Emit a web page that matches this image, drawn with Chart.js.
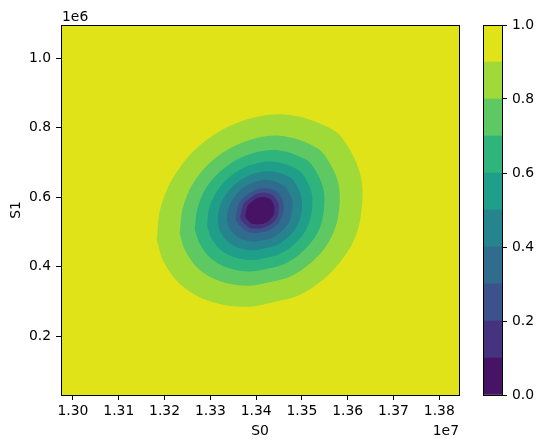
<!DOCTYPE html>
<html>
<head>
<meta charset="utf-8">
<script src="https://cdn.jsdelivr.net/npm/chart.js@4.4.1/dist/chart.umd.min.js"></script>
<style>
  html, body { margin: 0; padding: 0; background: #fff; }
  #wrap { position: relative; width: 543px; height: 448px; }
  #main { position: absolute; left: 0; top: 0; }
  #cbar { position: absolute; left: 460px; top: 0; }
</style>
</head>
<body>
<div id="wrap">
  <canvas id="main" width="543" height="448"></canvas>
  <canvas id="cbar" width="83" height="448"></canvas>
</div>
<script>
// ===========================================
// data
// ===========================================
const S0_LIM = [1.29738e7, 1.38431e7];
const S1_LIM = [0.0315e6, 1.0957e6];
const S0_TICKS = [1.30e7, 1.31e7, 1.32e7, 1.33e7, 1.34e7, 1.35e7, 1.36e7, 1.37e7, 1.38e7];
const S1_TICKS = [0.2e6, 0.4e6, 0.6e6, 0.8e6, 1.0e6];
const LEVELS = [0, 0.1, 0.2, 0.3, 0.4, 0.5, 0.6, 0.7, 0.8, 0.9, 1.0];
const CB_TICKS = [0, 0.2, 0.4, 0.6, 0.8, 1.0];
// viridis at layer midpoints (0.05 ... 0.95)
const LAYER_COLORS = ['#471365','#46337f','#3b528b','#2f6c8e','#25848e','#1f9e89','#2fb47c','#5ec962','#a0da39','#dfe318'];

// contour lines (closed rings), S0 / S1
const c10_s0 = [1.3376e7,1.3382e7,1.3402e7,1.3416e7,1.3431e7,1.3440e7,1.3438e7,1.3428e7,1.3413e7,1.3392e7,1.3378e7];
const c10_s1 = [0.549e6,0.577e6,0.598e6,0.601e6,0.595e6,0.574e6,0.549e6,0.532e6,0.523e6,0.523e6,0.540e6];
const c20_s0 = [1.3365e7,1.3373e7,1.3400e7,1.3419e7,1.3438e7,1.3450e7,1.3447e7,1.3434e7,1.3414e7,1.3387e7,1.3368e7];
const c20_s1 = [0.545e6,0.582e6,0.610e6,0.614e6,0.605e6,0.578e6,0.545e6,0.523e6,0.511e6,0.512e6,0.533e6];
const c30_s0 = [1.3355e7,1.3365e7,1.3398e7,1.3421e7,1.3446e7,1.3460e7,1.3456e7,1.3440e7,1.3416e7,1.3383e7,1.3359e7];
const c30_s1 = [0.542e6,0.587e6,0.621e6,0.626e6,0.616e6,0.582e6,0.542e6,0.515e6,0.500e6,0.500e6,0.527e6];
const c40_s0 = [1.3336e7,1.3339e7,1.3350e7,1.3368e7,1.3394e7,1.3426e7,1.3459e7,1.3471e7,1.3479e7,1.3478e7,1.3474e7,1.3465e7,1.3452e7,1.3436e7,1.3419e7,1.3398e7,1.3373e7,1.3354e7,1.3341e7];
const c40_s1 = [0.535e6,0.565e6,0.596e6,0.623e6,0.643e6,0.650e6,0.635e6,0.617e6,0.590e6,0.557e6,0.535e6,0.516e6,0.498e6,0.484e6,0.478e6,0.473e6,0.478e6,0.492e6,0.514e6];
const c50_s0 = [1.3316e7,1.3319e7,1.3333e7,1.3357e7,1.3390e7,1.3431e7,1.3474e7,1.3489e7,1.3499e7,1.3499e7,1.3492e7,1.3482e7,1.3465e7,1.3444e7,1.3422e7,1.3395e7,1.3363e7,1.3338e7,1.3322e7];
const c50_s1 = [0.527e6,0.566e6,0.606e6,0.641e6,0.666e6,0.675e6,0.657e6,0.633e6,0.598e6,0.556e6,0.527e6,0.503e6,0.480e6,0.462e6,0.454e6,0.448e6,0.454e6,0.473e6,0.501e6];
const c60_s0 = [1.3293e7,1.3297e7,1.3314e7,1.3344e7,1.3386e7,1.3436e7,1.3490e7,1.3509e7,1.3522e7,1.3521e7,1.3513e7,1.3500e7,1.3479e7,1.3453e7,1.3425e7,1.3391e7,1.3352e7,1.3321e7,1.3301e7];
const c60_s1 = [0.518e6,0.567e6,0.617e6,0.661e6,0.692e6,0.703e6,0.680e6,0.651e6,0.607e6,0.555e6,0.518e6,0.489e6,0.460e6,0.438e6,0.427e6,0.420e6,0.428e6,0.451e6,0.486e6];
const c70_s0 = [1.3266e7,1.3272e7,1.3292e7,1.3330e7,1.3381e7,1.3443e7,1.3509e7,1.3532e7,1.3548e7,1.3547e7,1.3538e7,1.3521e7,1.3495e7,1.3463e7,1.3429e7,1.3387e7,1.3339e7,1.3301e7,1.3276e7];
const c70_s1 = [0.509e6,0.568e6,0.630e6,0.684e6,0.722e6,0.736e6,0.708e6,0.672e6,0.617e6,0.554e6,0.509e6,0.472e6,0.436e6,0.409e6,0.396e6,0.387e6,0.397e6,0.425e6,0.469e6];
const c80_s0 = [1.3233e7,1.3240e7,1.3265e7,1.3311e7,1.3374e7,1.3451e7,1.3532e7,1.3561e7,1.3581e7,1.3580e7,1.3568e7,1.3548e7,1.3515e7,1.3476e7,1.3434e7,1.3383e7,1.3323e7,1.3275e7,1.3245e7];
const c80_s1 = [0.496e6,0.570e6,0.646e6,0.713e6,0.760e6,0.777e6,0.743e6,0.698e6,0.631e6,0.552e6,0.496e6,0.451e6,0.407e6,0.373e6,0.357e6,0.346e6,0.358e6,0.393e6,0.447e6];
const c90_s0 = [1.3183e7,1.3192e7,1.3225e7,1.3284e7,1.3364e7,1.3463e7,1.3568e7,1.3605e7,1.3630e7,1.3629e7,1.3614e7,1.3587e7,1.3546e7,1.3496e7,1.3441e7,1.3375e7,1.3299e7,1.3238e7,1.3198e7];
const c90_s1 = [0.478e6,0.573e6,0.670e6,0.757e6,0.817e6,0.838e6,0.794e6,0.736e6,0.650e6,0.550e6,0.478e6,0.420e6,0.363e6,0.320e6,0.300e6,0.285e6,0.301e6,0.346e6,0.415e6];

// ===========================================
Chart.defaults.font.family = "'DejaVu Sans', sans-serif";
Chart.defaults.font.size = 13.9;
Chart.defaults.color = '#000';

const ring = (xs, ys) => { const pts = xs.map((x, i) => ({x, y: ys[i]})); pts.push(pts[0]); return pts; };

const frame = {
  id: 'frame',
  afterDraw(chart) {
    const {ctx, chartArea: a} = chart;
    ctx.save();
    ctx.strokeStyle = '#000'; ctx.lineWidth = 1;
    ctx.strokeRect(Math.floor(a.left) + 0.5, Math.floor(a.top) + 0.5, Math.round(a.right - a.left), Math.round(a.bottom - a.top));
    ctx.restore();
  }
};
const offsetText = {
  id: 'offsetText',
  afterDraw(chart) {
    const {ctx, chartArea: a} = chart;
    ctx.save();
    ctx.fillStyle = '#000'; ctx.font = "13.9px 'DejaVu Sans', sans-serif"; ctx.textBaseline = 'alphabetic';
    ctx.textAlign = 'left'; ctx.fillText('1e6', a.left + 1, 21);
    ctx.textAlign = 'right'; ctx.fillText('1e7', a.right, 435);
    ctx.restore();
  }
};

// innermost first so it ends up on top
const contours = [[c10_s0,c10_s1],[c20_s0,c20_s1],[c30_s0,c30_s1],[c40_s0,c40_s1],[c50_s0,c50_s1],[c60_s0,c60_s1],[c70_s0,c70_s1],[c80_s0,c80_s1],[c90_s0,c90_s1]];
const datasets = contours.map(([xs, ys], i) => ({
  data: ring(xs, ys), backgroundColor: LAYER_COLORS[i], borderColor: 'transparent', borderWidth: 0,
  pointRadius: 0, fill: 'shape', tension: i < 2 ? 0.15 : 0.35
}));
datasets.push({
  data: ring([S0_LIM[0], S0_LIM[1], S0_LIM[1], S0_LIM[0]], [S1_LIM[0], S1_LIM[0], S1_LIM[1], S1_LIM[1]]),
  backgroundColor: LAYER_COLORS[9], borderColor: 'transparent', borderWidth: 0, pointRadius: 0, fill: 'shape', tension: 0
});

const axisGrid = {drawOnChartArea: false, drawTicks: true, tickLength: 5, tickColor: '#000', tickWidth: 1};

new Chart(document.getElementById('main'), {
  type: 'line',
  data: {datasets},
  options: {
    responsive: false, animation: false, devicePixelRatio: 1, events: [],
    layout: {padding: {top: 25, right: 84, left: 0, bottom: 0}},
    plugins: {legend: {display: false}, tooltip: {enabled: false}},
    scales: {
      x: {
        type: 'linear', min: S0_LIM[0], max: S0_LIM[1],
        afterBuildTicks: s => { s.ticks = S0_TICKS.map(v => ({value: v})); },
        afterFit: s => { s.height = 53; },
        ticks: {callback: v => (v / 1e7).toFixed(2), padding: 3, maxRotation: 0, autoSkip: false},
        grid: axisGrid, border: {display: false},
        title: {display: true, text: 'S0', padding: {top: 0, bottom: 8}}
      },
      y: {
        type: 'linear', min: S1_LIM[0], max: S1_LIM[1],
        afterBuildTicks: s => { s.ticks = S1_TICKS.map(v => ({value: v})); },
        afterFit: s => { s.width = 61; },
        ticks: {callback: v => (v / 1e6).toFixed(1), padding: 5, autoSkip: false},
        grid: axisGrid, border: {display: false},
        title: {display: true, text: 'S1', padding: {top: 8, bottom: 0}}
      }
    }
  },
  plugins: [frame, offsetText]
});

// colorbar
new Chart(document.getElementById('cbar'), {
  type: 'bar',
  data: {
    labels: [''],
    datasets: LAYER_COLORS.map((c, i) => ({
      data: [[LEVELS[i], LEVELS[i + 1]]], backgroundColor: c, borderWidth: 0,
      barPercentage: 1, categoryPercentage: 1, grouped: false
    }))
  },
  options: {
    responsive: false, animation: false, devicePixelRatio: 1, events: [],
    layout: {padding: {top: 25, right: 0, left: 23, bottom: 53}},
    plugins: {legend: {display: false}, tooltip: {enabled: false}},
    scales: {
      x: {display: false},
      y: {
        position: 'right', min: 0, max: 1,
        afterBuildTicks: s => { s.ticks = CB_TICKS.map(v => ({value: v})); },
        afterFit: s => { s.width = 41; },
        ticks: {callback: v => v.toFixed(1), padding: 5},
        grid: axisGrid, border: {display: false}
      }
    }
  },
  plugins: [frame]
});
</script>
</body>
</html>
